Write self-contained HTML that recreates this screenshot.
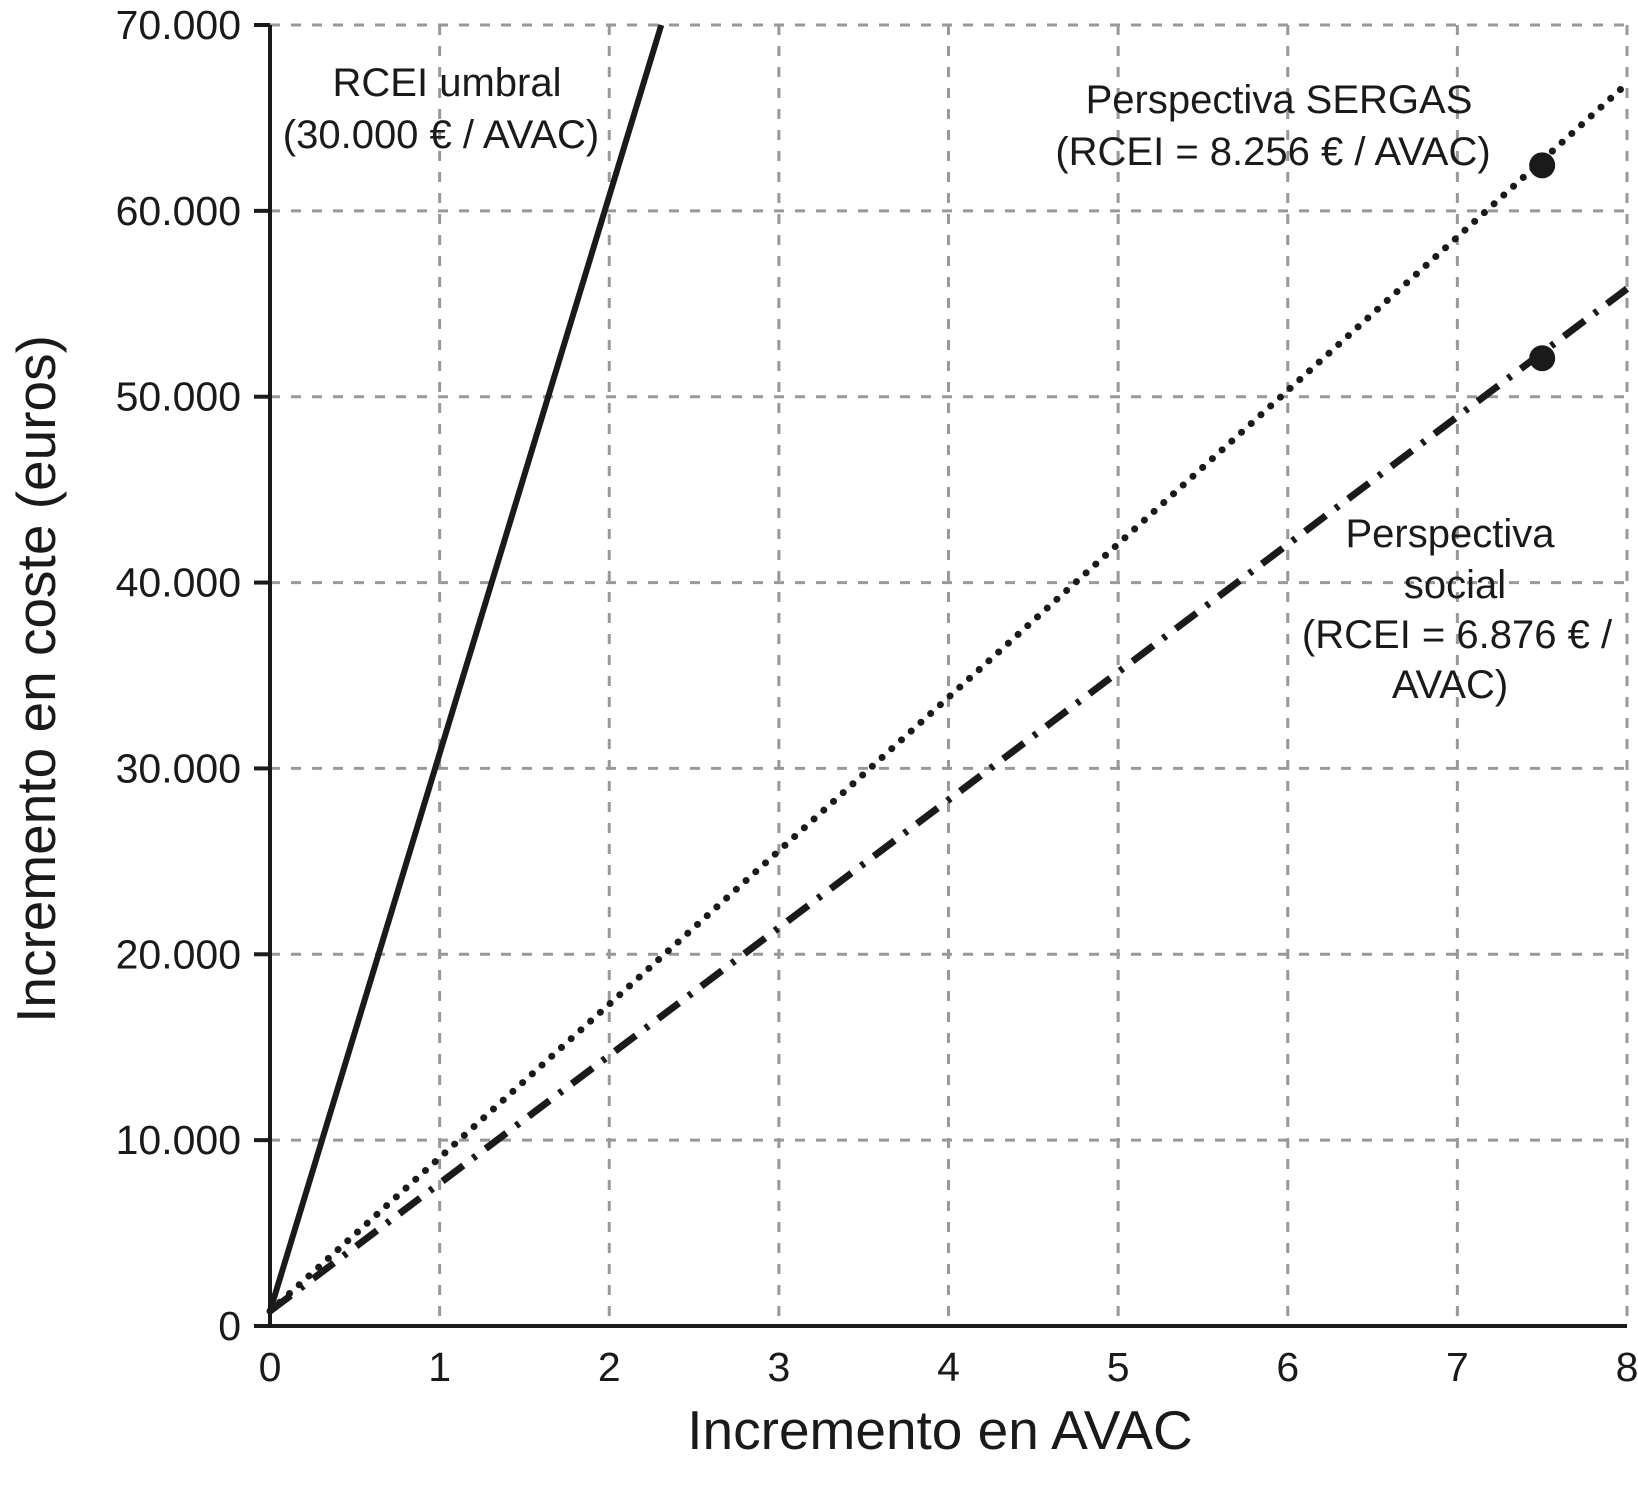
<!DOCTYPE html>
<html><head><meta charset="utf-8"><style>
html,body{margin:0;padding:0;background:#fff;}
svg text{font-family:"Liberation Sans",Arial,sans-serif;fill:#1a1a1a;}
</style></head><body>
<svg id="chart" width="1638" height="1485" viewBox="0 0 1638 1485" xmlns="http://www.w3.org/2000/svg">
<g id="grid"></g>
<g id="axes"></g>
<g id="series"></g>
<g id="labels">
<text x="447" y="96" font-size="40" text-anchor="middle">RCEI umbral</text>
<text x="441" y="148" font-size="40" text-anchor="middle">(30.000 € / AVAC)</text>
<text x="1279" y="113" font-size="40" text-anchor="middle">Perspectiva SERGAS</text>
<text x="1273" y="165" font-size="40" text-anchor="middle">(RCEI = 8.256 € / AVAC)</text>
<text x="1450" y="547" font-size="40" text-anchor="middle">Perspectiva</text>
<text x="1455" y="598" font-size="40" text-anchor="middle">social</text>
<text x="1457" y="648" font-size="40" text-anchor="middle">(RCEI = 6.876 € /</text>
<text x="1450" y="698" font-size="40" text-anchor="middle">AVAC)</text>
<text x="940" y="1449" font-size="55" text-anchor="middle">Incremento en AVAC</text>
<text transform="translate(55,679) rotate(-90)" font-size="55" text-anchor="middle">Incremento en coste (euros)</text>
</g>
</svg>
<script>
const xTicks = [0,1,2,3,4,5,6,7,8];
const yTicks = [0,10000,20000,30000,40000,50000,60000,70000];
const yTickLabels = ["0","10.000","20.000","30.000","40.000","50.000","60.000","70.000"];
const seriesNames = ["umbral","sergas","social"];
const slopes = [30000, 8256, 6876];
const intercept = 800;
const pointX = [7.5, 7.5];
const pointY = [62450, 52070];

const X0=270, X1=1627, Y0=1326, Y1=25;
const xs = v => X0 + (v/8)*(X1-X0);
const ys = v => Y0 - (v/70000)*(Y0-Y1);
const NS="http://www.w3.org/2000/svg";
function mk(tag, attrs, parent){const e=document.createElementNS(NS,tag);for(const k in attrs)e.setAttribute(k,attrs[k]);parent.appendChild(e);return e;}
const grid=document.getElementById('grid'), axes=document.getElementById('axes'), series=document.getElementById('series');

xTicks.forEach(t=>{
  if(t>0){const l=mk('line',{x1:xs(t),x2:xs(t),y1:Y1,y2:Y0,stroke:'#999','stroke-width':3,'stroke-dasharray':'10 11'},grid);
  
  }
  const tx=mk('text',{x:xs(t),y:1381,'font-size':41,'text-anchor':'middle'},axes);
  tx.textContent=t;
  
  
});
yTicks.forEach((t,i)=>{
  if(t>0){const l=mk('line',{x1:X0,x2:X1,y1:ys(t),y2:ys(t),stroke:'#999','stroke-width':3,'stroke-dasharray':'10 11'},grid);
  
  }
  const tk=mk('line',{x1:254,x2:X0,y1:ys(t),y2:ys(t),stroke:'#1a1a1a','stroke-width':4},axes);
  
  
  const tx=mk('text',{x:241,y:ys(t)+14,'font-size':41,'text-anchor':'end'},axes);
  tx.textContent=yTickLabels[i];
  
  
});
const ya=mk('line',{x1:X0,x2:X0,y1:Y1,y2:Y0+2,stroke:'#1a1a1a','stroke-width':4},axes);


const xa=mk('line',{x1:254,x2:X1,y1:Y0,y2:Y0,stroke:'#1a1a1a','stroke-width':4},axes);



const styles=[{w:6,d:'',c:'butt'},{w:7,d:'0.1 13',c:'round'},{w:7,d:'26 12 4 12',c:'butt'}];
slopes.forEach((s,i)=>{
  let xe=8, ye=intercept+s*8;
  if(ye>70000){ye=70000; xe=(70000-intercept)/s;}
  const l=mk('line',{x1:xs(0),y1:ys(intercept),x2:xs(xe),y2:ys(ye),stroke:'#1a1a1a','stroke-width':styles[i].w,'stroke-linecap':styles[i].c},series);
  if(styles[i].d) l.setAttribute('stroke-dasharray',styles[i].d);
  
  
});
pointX.forEach((px,i)=>{
  const c=mk('circle',{cx:xs(px),cy:ys(pointY[i]),r:13,fill:'#1a1a1a'},series);
  
  
});
</script>
</body></html>
